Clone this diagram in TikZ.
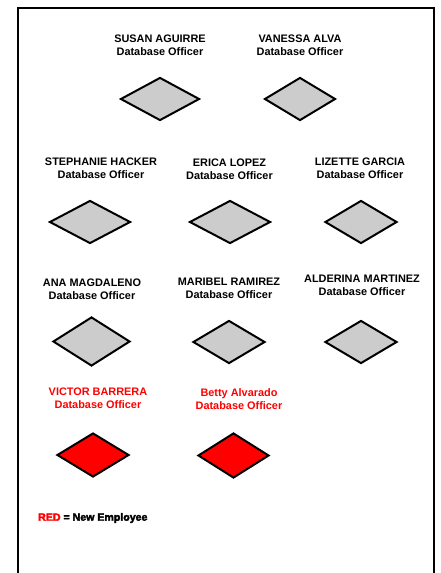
\documentclass[tikz,border=0pt]{standalone}
\usepackage{fontspec}
\setmainfont{Liberation Sans}
\newfontfamily\legendfont[FakeBold=3]{Liberation Sans Bold}
\usetikzlibrary{shapes.geometric}
\tikzset{
  post/.style={diamond, draw, line width=2pt, fill=gray!40, inner sep=0pt, minimum height=43pt},
  newpost/.style={post, fill=red},
  staff/.style={align=center, inner sep=0pt, font=\fontsize{10.9}{12.6}\selectfont\bfseries},
  newstaff/.style={staff, text=red},
}
\begin{document}
\begin{tikzpicture}[x=1pt, y=-1pt]
  \useasboundingbox (0,0) rectangle (441,573);
  \draw[line width=2.8pt] (18,573) -- (18,8) -- (434,8) -- (434,573);
  % first row
  \node[staff] (susan) at (160,45.5) {SUSAN AGUIRRE\\Database Officer};
  \node[staff] (vanessa) at (300,45.5) {VANESSA ALVA\\Database Officer};
  \node[post, minimum width=79pt] (susanpost) at (160,99) {};
  \node[post, minimum width=71pt] (vanessapost) at (300,99) {};
  % second row
  \node[staff] (stephanie) at (101,168.5) {STEPHANIE HACKER\\Database Officer};
  \node[staff] (erica) at (229.5,169.5) {ERICA LOPEZ\\Database Officer};
  \node[staff] (lizette) at (360,168.5) {LIZETTE GARCIA\\Database Officer};
  \node[post, minimum width=81pt] (stephaniepost) at (90,222) {};
  \node[post, minimum width=81pt] (ericapost) at (230,222) {};
  \node[post, minimum width=72pt] (lizettepost) at (361,222) {};
  % third row
  \node[staff] (ana) at (92,289) {ANA MAGDALENO\\Database Officer};
  \node[staff] (maribel) at (229,288.5) {MARIBEL RAMIREZ\\Database Officer};
  \node[staff] (alderina) at (362,285.5) {ALDERINA MARTINEZ\\Database Officer};
  \node[post, minimum width=77pt, minimum height=49pt] (anapost) at (91.5,341.5) {};
  \node[post, minimum width=72pt] (maribelpost) at (229,342) {};
  \node[post, minimum width=72pt] (alderinapost) at (361,342) {};
  % new employees
  \node[newstaff] (victor) at (98,398) {VICTOR BARRERA\\Database Officer};
  \node[newstaff] (betty) at (239,399) {Betty Alvarado\\Database Officer};
  \node[newpost, minimum width=72pt, minimum height=44pt] (victorpost) at (93,455) {};
  \node[newpost, minimum width=71pt, minimum height=45pt] (bettypost) at (233.5,455.5) {};
  % legend
  \node[anchor=west, inner sep=0pt, font=\fontsize{10.6}{12}\legendfont] (legend) at (38,518)
    {\textcolor{red}{RED} = New Employee};
\end{tikzpicture}
\end{document}
